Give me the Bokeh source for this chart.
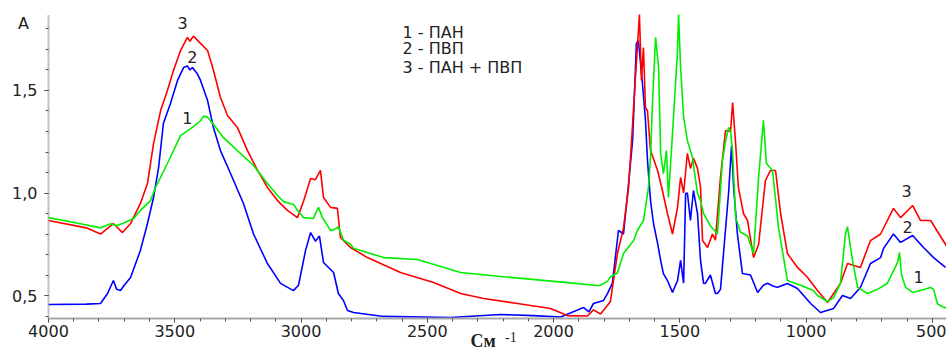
from bokeh.plotting import figure
from bokeh.models import Range1d, FixedTicker, CustomJSTickFormatter, Label
from bokeh.embed import file_html
from bokeh.resources import INLINE

# ---- data: wavenumber (cm^-1) and absorbance A ----
wn_1 = [4000, 3873, 3794, 3754, 3730, 3700, 3663, 3636, 3596, 3576, 3529, 3477, 3430, 3400, 3386, 3370,
        3347, 3307, 3252, 3188, 3133, 3093, 3069, 3030, 3010, 2990, 2951, 2931, 2915, 2883, 2871, 2852,
        2832, 2804, 2792, 2673, 2539, 2368, 2210, 1945, 1826, 1814, 1786, 1775, 1747, 1723, 1683, 1668,
        1644, 1624, 1616, 1608, 1596, 1584, 1576, 1565, 1553, 1545, 1529, 1517, 1509, 1505, 1497, 1485,
        1470, 1450, 1430, 1418, 1406, 1379, 1351, 1331, 1319, 1307, 1299, 1291, 1279, 1260, 1232, 1208,
        1188, 1169, 1157, 1133, 1109, 1074, 1022, 971, 955, 915, 891, 864, 844, 836, 816, 796, 757, 717,
        678, 654, 638, 630, 622, 606, 578, 547, 507, 495, 480, 460, 440]
a_1 = [0.88, 0.85, 0.83, 0.85, 0.84, 0.855, 0.876, 0.915, 0.963, 1.027, 1.144, 1.28, 1.32, 1.35, 1.375, 1.37,
       1.335, 1.27, 1.207, 1.134, 1.046, 0.988, 0.958, 0.944, 0.91, 0.88, 0.876, 0.93, 0.88, 0.817, 0.82, 0.835,
       0.77, 0.75, 0.73, 0.685, 0.676, 0.612, 0.593, 0.563, 0.549, 0.55, 0.57, 0.59, 0.61, 0.705, 0.768, 0.817,
       0.866, 1.027, 1.173, 1.451, 1.76, 1.612, 1.193, 1.095, 1.207, 0.978, 1.29, 1.534, 1.695, 1.87, 1.612, 1.37,
       1.256, 1.173, 0.998, 0.963, 0.90, 0.84, 0.80, 1.16, 1.25, 1.32, 1.30, 1.2, 0.88, 0.81, 0.79, 0.705,
       1.076, 1.354, 1.144, 1.11, 0.83, 0.573, 0.55, 0.524, 0.50, 0.47, 0.49, 0.56, 0.80, 0.835, 0.67, 0.54, 0.51, 0.53,
       0.56, 0.62, 0.66, 0.71, 0.60, 0.54, 0.515, 0.524, 0.539, 0.53, 0.46, 0.445, 0.437]

wn_2 = [4000, 3850, 3794, 3766, 3743, 3730, 3715, 3700, 3675, 3636, 3608, 3584, 3564, 3545, 3517, 3489,
        3465, 3450, 3440, 3430, 3410, 3398, 3370, 3347, 3319, 3279, 3228, 3188, 3133, 3081, 3030, 3010,
        2982, 2962, 2943, 2927, 2911, 2871, 2852, 2832, 2816, 2792, 2673, 2408, 2210, 2079, 1972, 1881,
        1860, 1842, 1802, 1786, 1767, 1743, 1723, 1703, 1687, 1679, 1672, 1664, 1648, 1636, 1628, 1616,
        1604, 1588, 1576, 1565, 1549, 1529, 1509, 1497, 1485, 1477, 1470, 1458, 1446, 1430, 1418, 1406,
        1398, 1379, 1359, 1351, 1339, 1327, 1307, 1295, 1287, 1272, 1252, 1220, 1192, 1169, 1153, 1129,
        1113, 1074, 1034, 982, 943, 891, 856, 824, 785, 745, 705, 693, 654, 626, 578, 535, 495, 448]
a_2 = [0.456, 0.458, 0.461, 0.51, 0.573, 0.53, 0.524, 0.55, 0.588, 0.72, 0.851, 0.978, 1.124, 1.339, 1.437, 1.549,
       1.612, 1.62, 1.60, 1.612, 1.58, 1.549, 1.451, 1.32, 1.207, 1.095, 0.949, 0.80, 0.656, 0.559, 0.524, 0.55,
       0.72, 0.807, 0.765, 0.79, 0.661, 0.612, 0.51, 0.476, 0.427, 0.417, 0.398, 0.393, 0.407, 0.402, 0.395, 0.441,
       0.42, 0.461, 0.476, 0.51, 0.56, 0.817, 0.80, 1.046, 1.256, 1.5, 1.729, 1.744, 1.534, 1.354, 1.159, 0.963,
       0.85, 0.754, 0.671, 0.607, 0.573, 0.515, 0.573, 0.671, 0.56, 0.998, 1.0, 0.866, 1.012, 0.90, 0.671, 0.559,
       0.56, 0.60, 0.51, 0.51, 0.53, 0.705, 1.0, 1.232, 1.027, 0.80, 0.607, 0.60, 0.515, 0.55, 0.56, 0.545,
       0.54, 0.559, 0.534, 0.461, 0.417, 0.437, 0.50, 0.485, 0.539, 0.656, 0.685, 0.73, 0.80, 0.759, 0.793, 0.734, 0.685, 0.637]

wn_3 = [4000, 3850, 3794, 3743, 3707, 3675, 3636, 3608, 3584, 3556, 3529, 3505, 3477, 3450, 3440, 3426,
        3402, 3370, 3347, 3319, 3291, 3252, 3212, 3172, 3133, 3093, 3054, 3014, 2990, 2962, 2943, 2923,
        2911, 2883, 2856, 2844, 2804, 2737, 2606, 2475, 2368, 2277, 2143, 2012, 1945, 1866, 1842, 1814,
        1775, 1747, 1723, 1703, 1691, 1679, 1668, 1660, 1652, 1644, 1636, 1628, 1616, 1588, 1569, 1549,
        1529, 1509, 1497, 1485, 1470, 1458, 1446, 1430, 1418, 1410, 1390, 1371, 1359, 1339, 1319, 1299,
        1291, 1279, 1268, 1248, 1232, 1208, 1188, 1161, 1141, 1121, 1101, 1074, 1034, 994, 955, 915,
        864, 836, 785, 745, 705, 654, 626, 578, 547, 507, 440]
a_3 = [0.866, 0.83, 0.80, 0.851, 0.807, 0.851, 0.949, 1.046, 1.241, 1.402, 1.5, 1.598, 1.695, 1.759, 1.74, 1.765,
       1.735, 1.695, 1.60, 1.466, 1.378, 1.32, 1.207, 1.11, 1.027, 0.963, 0.915, 0.88, 0.96, 1.071, 1.065, 1.11,
       0.978, 0.93, 0.925, 0.783, 0.734, 0.685, 0.612, 0.563, 0.51, 0.485, 0.461, 0.437, 0.402, 0.40, 0.43, 0.41,
       0.47, 0.705, 0.83, 1.027, 1.256, 1.5, 1.71, 1.87, 1.549, 1.71, 1.417, 1.40, 1.207, 1.11, 1.012, 0.90,
       0.80, 0.93, 1.076, 1.0, 1.193, 1.12, 1.17, 1.12, 1.027, 0.768, 0.734, 0.80, 0.77, 1.076, 1.305, 1.30,
       1.441, 1.241, 1.027, 0.90, 0.866, 0.685, 0.75, 1.061, 1.11, 1.11, 0.90, 0.705, 0.637, 0.588, 0.524, 0.466,
       0.559, 0.656, 0.637, 0.768, 0.80, 0.925, 0.88, 0.939, 0.866, 0.866, 0.734]

legend_lines = ["1 - ПАН", "2 - ПВП", "3 - ПАН + ПВП"]
x_major = [4000, 3500, 3000, 2500, 2000, 1500, 1000, 500]
y_major = [0.5, 1.0, 1.5]

X_START, X_END = 4000, 444       # axis extent
Y_START, Y_END = 0.388, 1.866

p = figure(width=946, height=352, output_backend="svg", toolbar_location=None,
           x_range=Range1d(4190, 444), y_range=Range1d(0.222, 1.939),
           min_border=0)
p.outline_line_color = None
p.xgrid.visible = False
p.ygrid.visible = False
p.background_fill_color = "white"

# axes drawn at fixed positions inside the frame
p.xaxis.fixed_location = Y_START
p.yaxis.fixed_location = X_START
p.xaxis.bounds = (X_END, X_START)
p.yaxis.bounds = (Y_START, Y_END)
p.xaxis.ticker = FixedTicker(ticks=x_major, minor_ticks=list(range(500, 4001, 100)))
p.yaxis.ticker = FixedTicker(ticks=y_major, minor_ticks=[round(0.4 + 0.1 * i, 1) for i in range(15)])
p.yaxis.formatter = CustomJSTickFormatter(code="return tick.toFixed(1).replace('.', ',')")
for ax in (p.xaxis[0], p.yaxis[0]):
    ax.major_label_text_font = "DejaVu Sans"
    ax.major_label_text_font_size = "16px"
    ax.major_label_text_color = "#222222"
    ax.major_tick_line_color = "#333333"
    ax.minor_tick_line_color = "#555555"
    ax.major_tick_out = 4
    ax.major_tick_in = 0
    ax.minor_tick_out = 3
    ax.minor_tick_in = 0
p.xaxis.axis_line_color = "#a8a8a8"
p.xaxis.axis_line_width = 2
p.xaxis.major_label_standoff = 3
p.yaxis.axis_line_color = "#888888"
p.yaxis.axis_line_width = 2
p.yaxis.axis_line_dash = "1 1"
p.yaxis.major_label_standoff = 7

# spectra
p.line(wn_2, a_2, color="#0000ff", line_width=1.6)
p.line(wn_3, a_3, color="#ff0000", line_width=1.6)
p.line(wn_1, a_1, color="#00ee00", line_width=1.6)

txt = dict(text_font="DejaVu Sans", text_font_size="16px", text_color="#222222")

# curve numbers
for x, y, t in [(3469, 1.827, "3"), (3430, 1.661, "2"), (3450, 1.368, "1"),
                (602, 1.012, "3"), (598, 0.832, "2"), (555, 0.588, "1")]:
    p.add_layout(Label(x=x, y=y, text=t, text_align="center", text_baseline="middle", **txt))

# legend text
for y, t in zip([1.783, 1.705, 1.612], legend_lines):
    p.add_layout(Label(x=2598, y=y, text=t, text_align="left", text_baseline="middle", **txt))

# axis titles
p.add_layout(Label(x=4099, y=1.827, text="A", text_align="center", text_baseline="middle", **txt))
p.add_layout(Label(x=2329, y=0.229, text="См", text_align="left", text_baseline="bottom",
                   text_font="Liberation Serif", text_font_style="bold", text_font_size="18px",
                   text_color="#222222"))
p.add_layout(Label(x=2192, y=0.273, text="-1", text_align="left", text_baseline="bottom",
                   text_font="Liberation Serif", text_font_size="14px", text_color="#222222"))

open("out.html", "w").write(file_html(p, INLINE))
